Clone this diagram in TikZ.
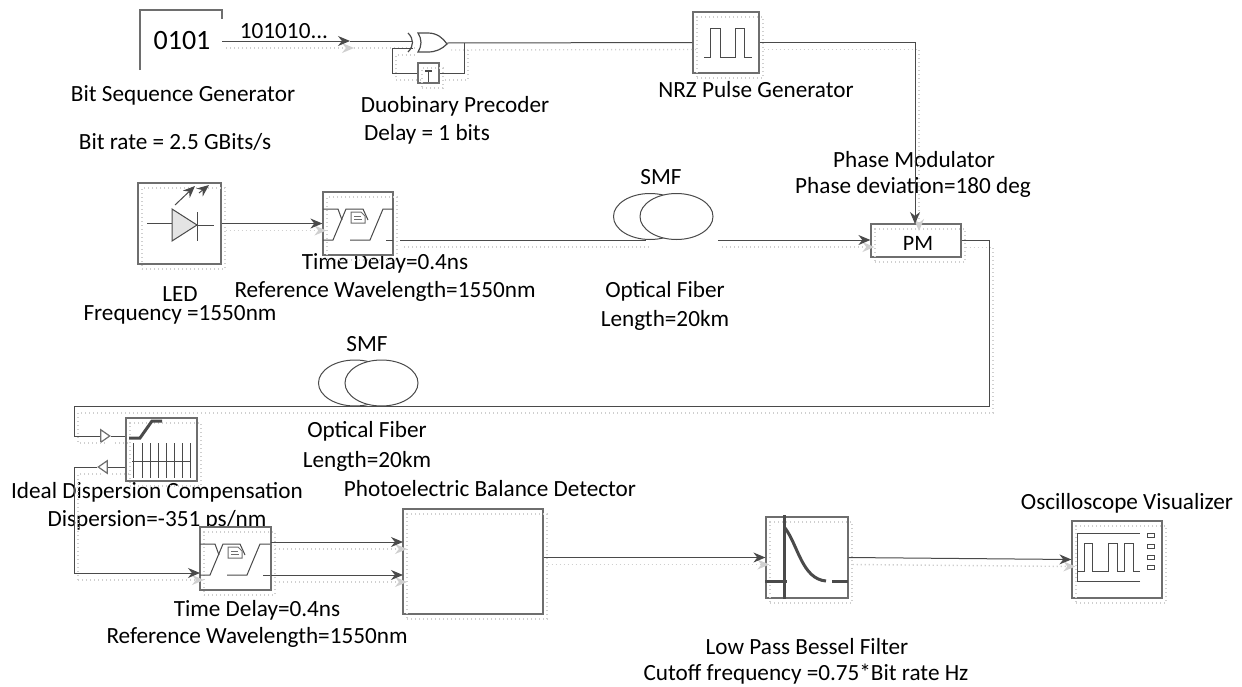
\documentclass[tikz,border=0pt]{standalone}
\usepackage{fontspec}
\setmainfont{Carlito}
\usetikzlibrary{arrows.meta,shapes.geometric}
\definecolor{linkink}{HTML}{4A4A4A}
\definecolor{boxink}{HTML}{6E6E6E}
\definecolor{ghostink}{HTML}{CFCFCF}
\definecolor{ledfill}{HTML}{E4E4E4}
% the band-pass glyph of a delay block, (#1,#2) is the top left corner of the block
\newcommand{\delayglyph}[2]{%
  \begin{scope}[shift={(#1,#2)}, linkink, line width=0.5pt]
    \draw (0,17) -- (15,17) -- (19,28);
    \draw (0,48) -- (10,48) -- (23,17) -- (40,17) -- (45,28);
    \draw (27,48) -- (47,48) -- (60,17) -- (70,17);
    \draw (63,48) -- (70,48);
    \draw[boxink, fill=white] (28,20) -- (38,20) -- (42,24) -- (42,31) -- (28,31) -- cycle;
    \draw[boxink, line width=0.4pt] (31,24) -- (38,24) (31,27) -- (39,27);
  \end{scope}}

\begin{document}
\begin{tikzpicture}[
  x=0.5pt,
  y=-0.5pt,
  every node/.style={inner sep=0pt},
  caption/.style={font=\fontsize{11.6}{13}\selectfont, text=black},
  block/.style={draw=boxink, line width=0.6pt, minimum width=#1,
                postaction={draw=ghostink, line width=0.7pt, dash pattern=on 0.6pt off 1.4pt,
                            transform canvas={xshift=2pt, yshift=-2.5pt}}},
  delaybox/.style={block=35pt, minimum height=31.5pt, fill=white},
  coil/.style={ellipse, draw=linkink, line width=0.5pt, fill=white,
               minimum width=36.5pt, minimum height=23pt},
  port/.style={isosceles triangle, isosceles triangle apex angle=70, draw=boxink,
               fill=white, line width=0.6pt, minimum size=4.5pt},
  wire/.style={linkink, line width=0.5pt,
               preaction={draw=ghostink, line width=0.7pt, dash pattern=on 0.6pt off 1.4pt,
                          transform canvas={xshift=2pt, yshift=-3.5pt}}},
  link/.style={wire, -{Stealth[length=6pt, width=5pt]}},
  heavy/.style={linkink, line width=1.5pt}
]
  \useasboundingbox (0,0) rectangle (1242,686);

  % ---- captions first, the blocks hide parts of them ---------------------
  \node[caption] (bitname) at (183,95) {Bit Sequence Generator};
  \node[caption] (bitrate) at (175,142) {Bit rate = 2.5 GBits/s};
  \node[caption] (bitword) at (284,31) {101010...};
  \node[caption] (preco) at (455,106) {Duobinary Precoder};
  \node[caption] (precodelay) at (427,134) {Delay = 1 bits};
  \node[caption] (nrzname) at (756,90) {NRZ Pulse Generator};
  \node[caption] (pmname) at (914,160) {Phase Modulator};
  \node[caption] (pmdev) at (913,187) {Phase deviation=180 deg};
  \node[caption] (smfa) at (661,177) {SMF};
  \node[caption] (delayatime) at (385,263) {Time Delay=0.4ns};
  \node[caption] (delayaref) at (385,291) {Reference Wavelength=1550nm};
  \node[caption] (ledname) at (180,294) {LED};
  \node[caption] (ledfreq) at (180,315) {Frequency =1550nm};
  \node[caption] (fibaname) at (665,291) {Optical Fiber};
  \node[caption] (fibalen) at (665,320) {Length=20km};
  \node[caption] (smfb) at (367,344) {SMF};
  \node[caption] (fibbname) at (367,431) {Optical Fiber};
  \node[caption] (fibblen) at (367,461) {Length=20km};
  \node[caption] (dcname) at (157,492) {Ideal Dispersion Compensation};
  \node[caption] (dcval) at (157,520) {Dispersion=-351 ps/nm};
  \node[caption] (pdname) at (490,489) {Photoelectric Balance Detector};
  \node[caption] (delaybtime) at (257,610) {Time Delay=0.4ns};
  \node[caption] (delaybref) at (257,637) {Reference Wavelength=1550nm};
  \node[caption] (lpname) at (807,647) {Low Pass Bessel Filter};
  \node[caption] (lpcut) at (806,674) {Cutoff frequency =0.75*Bit rate Hz};
  \node[caption] (scopename) at (1127,503) {Oscilloscope Visualizer};

  % ---- blocks -------------------------------------------------------------
  \node[font=\fontsize{14}{16}\selectfont, text=black] (bitgen) at (182,41) {0101};
  \node[block=33pt, minimum height=30.5pt] (nrz) at (726,42.5) {};
  \node[block=10.5pt, minimum height=10pt] (tbox) at (428.5,73) {};
  \node[block=41.5pt, minimum height=40.5pt] (led) at (179.5,223.5) {};
  \node[delaybox] (delaya) at (358,223.5) {};
  \node[block=45pt, minimum height=16.5pt] (pm) at (916,240.5) {};
  \node[block=35.5pt, minimum height=31.5pt] (dc) at (161.5,449.5) {};
  \node[delaybox, minimum width=35.5pt] (delayb) at (235.5,558.5) {};
  \node[block=70pt, minimum height=52.5pt] (pd) at (473,561.5) {};
  \node[block=41pt, minimum height=40.5pt] (lp) at (807,557.5) {};
  \node[block=45pt, minimum height=38.5pt] (scope) at (1117,559.5) {};
  \node[font=\fontsize{11}{13}\selectfont, text=black] (pmtext) at (918,243) {PM};

  \node[coil] (coila) at (650,216.5) {};
  \node[coil] (coilb) at (676.5,216.5) {};
  \node[coil] (coilc) at (355,383) {};
  \node[coil] (coild) at (381.5,383) {};

  \node[port] (dcin) at (104,436) {};
  \node[port, shape border rotate=180] (dcout) at (104,467) {};

  % ---- free ends and corners ----------------------------------------------
  \coordinate (bitout) at (222,41);
  \coordinate (bitmid) at (350,41);
  \coordinate (xorin) at (412,41);
  \coordinate (xorback) at (413,48);
  \coordinate (xorout) at (447,43);
  \coordinate (xorjoin) at (464,43);
  \coordinate (backleft) at (392,73);
  \coordinate (nrzturn) at (915,42.5);
  \coordinate (pmtop) at (915,224);
  \coordinate (delayaout) at (400,240);
  \coordinate (coilain) at (646,240);
  \coordinate (coilaout) at (718,240);
  \coordinate (feedright) at (989,406);
  \coordinate (feedleft) at (74,406);
  \coordinate (dropleft) at (74,573);
  \coordinate (delaybin) at (200,573);
  \coordinate (delaybup) at (271,542);
  \coordinate (delaybdn) at (271,575);
  \coordinate (pdup) at (403,542);
  \coordinate (pddn) at (403,575);

  % ---- bit sequence generator, open frame -----------------------------------
  \draw[boxink, line width=0.6pt] (140,70) -- (140,10) -- (222,10) -- (222,19);

  % ---- connectors -----------------------------------------------------------
  \draw[link] (bitout) -- (bitmid);
  \draw[wire] (bitmid) -- (xorin);
  \draw[wire] (xorout) -- (nrz.west);
  \draw[wire] (xorjoin) |- (tbox.east);
  \draw[wire] (tbox.west) -- (backleft) |- (xorback);
  \draw[link] (nrz.east) -- (nrzturn) -- (pmtop);
  \draw[link] (led.east) -- (delaya.west);
  \draw[wire] (delayaout) -- (coilain);
  \draw[link] (coilaout) -- (coilaout -| pm.west);
  \draw[wire] (pm.east) -| (feedright) -- (feedleft) |- (dcin.west);
  \draw[wire] (dcin.east) -- (dcin.east -| dc.west);
  \draw[wire] (dc.west |- dcout.east) -- (dcout.east);
  \draw[wire] (dcout.west) -| (dropleft);
  \draw[link] (dropleft) -- (delaybin);
  \draw[link] (delaybup) -- (pdup);
  \draw[link] (delaybdn) -- (pddn);
  \draw[link] (pd.east |- lp.west) -- (lp.west);
  \draw[link] (lp.east) -- (scope.west);

  % ---- exclusive or gate ------------------------------------------------------
  \draw[linkink, line width=0.6pt, fill=white] (418,33) -- (428,33) .. controls (437,33) and (443,38) .. (447,44)
    .. controls (442,49) and (436,52) .. (428,52) -- (418,52) .. controls (422,46) and (422,39) .. cycle;
  \draw[linkink, line width=0.6pt] (408,33) .. controls (414,39) and (414,46) .. (408,52);

  % ---- the T of the delay element -----------------------------------------------
  \draw[linkink, line width=0.6pt] (425,71) -- (432,71) (428.5,71) -- (428.5,82);

  % ---- pulses of the generator ---------------------------------------------------
  \draw[linkink, line width=0.5pt] (704,57) -- (710,57) -- (710,28) -- (720,28) -- (720,57)
    -- (735,57) -- (735,28) -- (744,28) -- (744,57) -- (752,57);

  % ---- diode ----------------------------------------------------------------------
  \draw[linkink, line width=0.5pt, fill=ledfill] (172,209) -- (197,225) -- (172,241) -- cycle;
  \draw[linkink, line width=0.5pt] (147,223) -- (172,223) (197,212) -- (197,241) (197,225) -- (214,225);
  \draw[linkink, line width=0.5pt, -{Stealth[length=6pt, width=5pt]}] (175,205) -- (195,186);
  \draw[linkink, line width=0.5pt, -{Stealth[length=6pt, width=5pt]}] (199,193) -- (209,185);

  % ---- delay blocks ----------------------------------------------------------------
  \delayglyph{323}{192}
  \delayglyph{200}{527}

  % ---- dispersion block --------------------------------------------------------------
  \draw[heavy] (129,438) -- (140,438) -- (152,421) -- (162,421);
  \draw[linkink, line width=0.4pt] (132,461) -- (190,461);
  \foreach \xc in {133,142,150,158,166,174,182,190}
    \draw[linkink, line width=0.4pt] (\xc,443) -- (\xc,478);

  % ---- bessel response ----------------------------------------------------------------
  \draw[heavy] (784,515) -- (784,599);
  \draw[heavy] (765,581) -- (787,581);
  \draw[heavy] (785,528) .. controls (798,545) and (802,579) .. (826,581);
  \draw[heavy] (832,581) -- (848,581);

  % ---- oscilloscope --------------------------------------------------------------------
  \draw[linkink, line width=0.5pt] (1140,581) -- (1077,581) -- (1077,533) -- (1140,533);
  \draw[linkink, line width=0.5pt] (1078,571) -- (1084,571) -- (1084,543) -- (1092,543) -- (1092,571)
    -- (1108,571) -- (1108,543) -- (1117,543) -- (1117,571) -- (1124,571) -- (1124,543)
    -- (1133,543) -- (1133,571) -- (1140,571);
  \foreach \yc in {533,544,555,565}
    \draw[linkink, line width=0.5pt] (1147,\yc) rectangle (1154,\yc+4);

\end{tikzpicture}
\end{document}
